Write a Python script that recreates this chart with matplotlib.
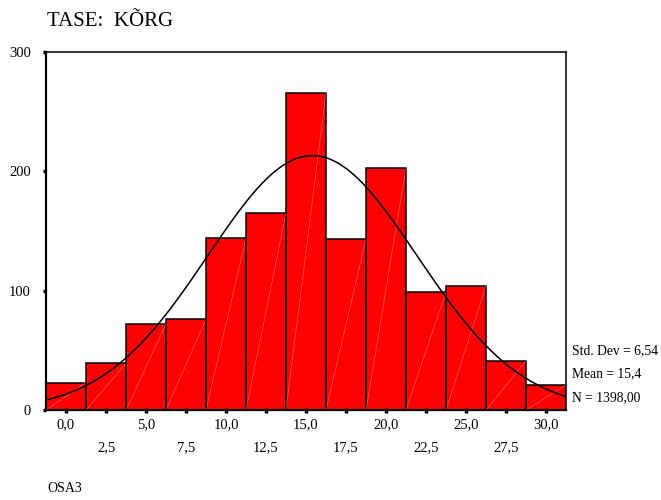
import numpy as np
import matplotlib; matplotlib.use("Agg")
import matplotlib.pyplot as plt

# histogram of OSA3 (bin centres every 2.5)
centers = [0.0, 2.5, 5.0, 7.5, 10.0, 12.5, 15.0, 17.5, 20.0, 22.5, 25.0, 27.5, 30.0]
counts = [23, 39, 72, 76, 144, 165, 266, 143, 203, 99, 104, 41, 21]
tick_labels = ["0,0", "2,5", "5,0", "7,5", "10,0", "12,5", "15,0",
               "17,5", "20,0", "22,5", "25,0", "27,5", "30,0"]
std_dev, mean, n_total = 6.54, 15.4, 1398
width = 2.5

plt.rcParams["font.family"] = ["Liberation Serif", "DejaVu Serif"]

fig = plt.figure(figsize=(6.61, 5.0), dpi=100)
ax = fig.add_axes([46/661, 1 - 410/500, 520/661, 358/500])

ax.bar(centers, counts, width=width, color="#ff0000", edgecolor="black",
       linewidth=1.1, zorder=2)
# faint white diagonal streak seen inside each bar
for c, h in zip(centers, counts):
    ax.plot([c - width/2, c + width/2], [0, h], color="white", lw=0.5,
            alpha=0.35, zorder=3)

x0, x1 = centers[0] - width/2, centers[-1] + width/2
xs = np.linspace(x0, x1, 300)
ys = n_total * width / (std_dev * np.sqrt(2*np.pi)) * np.exp(-0.5*((xs - mean)/std_dev)**2)
ax.plot(xs, ys, color="black", lw=1.1, zorder=4)

ax.set_xlim(x0, x1)
ax.set_ylim(0, 300)
ax.set_yticks([0, 100, 200, 300])
ax.set_yticklabels(["0", "100", "200", "300"], fontsize=10.5)
ax.set_xticks(centers)
ax.set_xticklabels([t if i % 2 == 0 else "\n" + t for i, t in enumerate(tick_labels)],
                   fontsize=10.5, linespacing=1.95)
ax.tick_params(axis="x", length=2, width=2.5, pad=4)
ax.tick_params(axis="y", length=2, width=2.5, pad=9)
for s in ["left", "bottom"]:
    ax.spines[s].set_linewidth(1.6)
for s in ["top", "right"]:
    ax.spines[s].set_linewidth(1.1)

fig.text(47/661, 1 - 21/500, "TASE:  KÕRG", fontsize=15, va="center", ha="left")
fig.text(47/661, 1 - 488/500, "OSA3", fontsize=10, va="center", ha="left")
sd_txt = f"{std_dev:.2f}".replace(".", ",")
mean_txt = f"{mean:.1f}".replace(".", ",")
n_txt = f"{n_total:.2f}".replace(".", ",")
stats = [f"Std. Dev = {sd_txt}", f"Mean = {mean_txt}", f"N = {n_txt}"]
for txt, yp in zip(stats, [351, 374, 398]):
    fig.text(572/661, 1 - yp/500, txt, fontsize=9.8, va="center", ha="left")

fig.savefig("out.png", dpi=100)
